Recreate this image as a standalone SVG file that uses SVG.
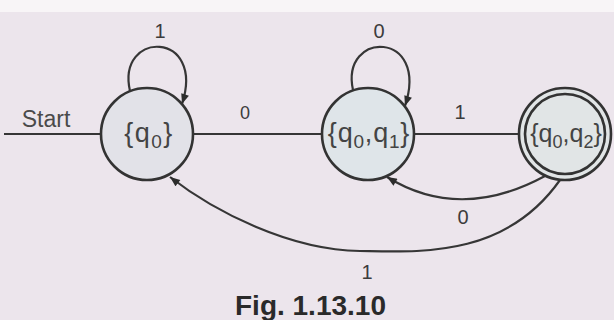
<svg xmlns="http://www.w3.org/2000/svg" width="614" height="320" viewBox="0 0 614 320">
<style>
  .bg{fill:#ece5ec}
  .node{stroke:#333333;stroke-width:2.6}
  .edge{fill:none;stroke:#363636;stroke-width:2.2}
  .lbl{font-family:"Liberation Sans",Arial,sans-serif;font-size:20px;fill:#3c3c3c;text-anchor:middle}
  .nl{font-family:"Liberation Sans",Arial,sans-serif;font-size:27px;fill:#444444;text-anchor:middle;letter-spacing:1.5px}
  .sub{font-size:19px}
</style>
<defs>
  <marker id="arr" viewBox="0 0 10 8" refX="10" refY="4" markerWidth="11" markerHeight="8" markerUnits="userSpaceOnUse" orient="auto">
    <path d="M0,0 L10,4 L0,8 Z" fill="#2c2c2c"/>
  </marker>
</defs>
<rect class="bg" x="0" y="0" width="614" height="320"/>
<rect x="0" y="0" width="614" height="12" fill="#f8f5f7"/>

<g id="connectors">
  <line class="edge" x1="4" y1="134" x2="101" y2="134"/>
  <text class="lbl" x="46" y="127" style="font-size:23px;text-anchor:middle;fill:#4a4a4a">Start</text>
  <line class="edge" x1="193" y1="134" x2="322" y2="134"/>
  <line class="edge" x1="414" y1="134" x2="519" y2="134"/>
  <path class="edge" d="M130,91 C116,30 206,30 182,104" marker-end="url(#arr)"/>
  <path class="edge" d="M353,90 C340,30 430,30 405,106" marker-end="url(#arr)"/>
  <path class="edge" d="M545,176 Q460,222 387,177" marker-end="url(#arr)"/>
  <path class="edge" d="M560,180 C505,258 420,252 360,251 C290,250 215,212 170,177" marker-end="url(#arr)"/>
  <text class="lbl" x="160" y="38">1</text>
  <text class="lbl" x="379" y="38">0</text>
  <text class="lbl" x="245" y="119" style="font-size:18px">0</text>
  <text class="lbl" x="460" y="119">1</text>
  <text class="lbl" x="463" y="224">0</text>
  <text class="lbl" x="367" y="279">1</text>
</g>

<g id="q0">
  <circle class="node" cx="147" cy="134" r="46" fill="#e2e2e8"/>
  <text class="nl" x="149" y="142">{q<tspan class="sub" dy="6">0</tspan><tspan dy="-6">}</tspan></text>
</g>
<g id="q0q1">
  <circle class="node" cx="368" cy="134" r="46" fill="#dfe5e9"/>
  <text class="nl" x="369" y="142" style="letter-spacing:0.8px">{q<tspan class="sub" dy="6">0</tspan><tspan dy="-6">,q</tspan><tspan class="sub" dy="6">1</tspan><tspan dy="-6">}</tspan></text>
</g>
<g id="q0q2">
  <circle class="node" cx="565" cy="134" r="46" fill="#e1e5e6"/>
  <circle class="node" cx="565" cy="134" r="40" fill="none" stroke-width="2"/>
  <text class="nl" x="566" y="142" style="letter-spacing:0px;font-size:25px">{q<tspan class="sub" dy="6" style="font-size:18px">0</tspan><tspan dy="-6">,q</tspan><tspan class="sub" dy="6" style="font-size:18px">2</tspan><tspan dy="-6">}</tspan></text>
</g>

<text x="235" y="315" style="font-family:'Liberation Sans',Arial,sans-serif;font-size:28px;font-weight:bold;fill:#2a2a2a">Fig. 1.13.10</text>
</svg>
